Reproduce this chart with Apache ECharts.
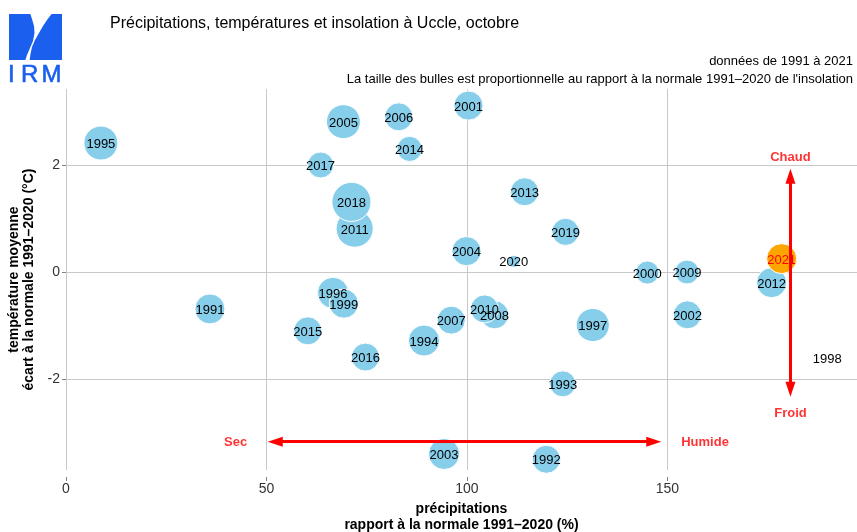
<!DOCTYPE html>
<html>
<head>
<meta charset="utf-8">
<script src="https://cdn.jsdelivr.net/npm/echarts@6/dist/echarts.min.js"></script>
<style>html,body{margin:0;padding:0;background:#fff}#c{width:857px;height:532px}</style>
</head>
<body>
<div id="c"></div>
<script>
// ---- data (October, Uccle) ----
const years  = [1991,1992,1993,1994,1995,1996,1997,1998,1999,2000,2001,2002,2003,2004,2005,2006,2007,2008,2009,2010,2011,2012,2013,2014,2015,2016,2017,2018,2019,2020,2021];
// precipitation, ratio to the 1991-2020 normal (%)
const precip = [35.9,119.8,123.9,89.3,8.7,66.6,131.4,189.9,69.3,145.0,100.4,155.0,94.3,99.9,69.2,83.0,96.1,106.9,154.9,104.4,72.0,176.0,114.4,85.7,60.3,74.7,63.5,71.2,124.6,111.7,178.5];
// mean temperature, departure from the 1991-2020 normal (°C)
const temp   = [-0.69,-3.50,-2.09,-1.28,2.41,-0.39,-0.99,-1.60,-0.59,-0.01,3.11,-0.80,-3.40,0.39,2.81,2.90,-0.90,-0.80,0.00,-0.69,0.81,-0.20,1.50,2.30,-1.10,-1.59,2.00,1.31,0.75,0.20,0.25];
// sunshine, ratio to the 1991-2020 normal (%)
const sun    = [105,98,91,109,119,109,116,0,102,81,102,98,109,102,119,98,98,98,84,98,130,105,98,88,98,98,91,137,95,42,105];
const highlightYear = 2021;

const xTicks = [0,50,100,150];
const yTicks = [-2,0,2];

// annotation arrows and labels (data space)
const arrowDry  = [[52.2,-3.17],[146.6,-3.17]];
const arrowWarm = [[180.7,1.79],[180.7,-2.19]];
const annotLabels = [[42.3,-3.17,'Sec'],[159.4,-3.17,'Humide'],[180.7,2.16,'Chaud'],[180.7,-2.63,'Froid']];

const chart = echarts.init(document.getElementById('c'), null, {renderer:'canvas'});
const FONT = 'Liberation Sans, Arial, Helvetica, sans-serif';
const BLUE = '#1a5fee';

const bubbleData = years.map((y,i)=>{
  const d = {value:[precip[i], temp[i], sun[i], y]};
  if (y === highlightYear) {
    d.itemStyle = {color:'#FFA500'};
    d.label = {color:'#FF0000'};
  }
  return d;
});

chart.setOption({
  animation:false,
  backgroundColor:'#fff',
  textStyle:{fontFamily:FONT},
  title:{
    text:'Précipitations, températures et insolation à Uccle, octobre',
    left:105, top:11,
    textStyle:{fontFamily:FONT, fontSize:16, fontWeight:'normal', color:'#000'}
  },
  graphic:[
    {type:'rect', shape:{x:9,y:14,width:53,height:46}, style:{fill:BLUE}},
    {type:'polygon', shape:{points:[[30,13],[32,19],[34,26],[34.5,33],[33,41],[30,48],[27,55],[25,61],[29.5,61],[30.5,54],[32,47],[35,40],[39,33],[43,26],[47,20],[50,16],[52.5,13]]}, style:{fill:'#fff'}},
    {type:'text', x:8,  y:75, style:{text:'I', font:'24px '+FONT, fill:BLUE, stroke:BLUE, lineWidth:0.6, textVerticalAlign:'middle'}},
    {type:'text', x:21, y:75, style:{text:'R', font:'24px '+FONT, fill:BLUE, stroke:BLUE, lineWidth:0.6, textVerticalAlign:'middle'}},
    {type:'text', x:41.5, y:75, style:{text:'M', font:'24px '+FONT, fill:BLUE, stroke:BLUE, lineWidth:0.6, textVerticalAlign:'middle'}},
    {type:'text', x:853, y:61, style:{text:'données de 1991 à 2021', font:'13px '+FONT, fill:'#000', textAlign:'right', textVerticalAlign:'middle'}},
    {type:'text', x:853, y:79, style:{text:"La taille des bulles est proportionnelle au rapport à la normale 1991–2020 de l'insolation", font:'13px '+FONT, fill:'#000', textAlign:'right', textVerticalAlign:'middle'}}
  ],
  grid:{left:66, top:89, width:791, height:381, containLabel:false, outerBoundsMode:'none'},
  xAxis:{
    type:'value', min:0, max:197.3, offset:7,
    name:'précipitations\nrapport à la normale 1991–2020 (%)',
    nameLocation:'middle', nameGap:18,
    nameTextStyle:{fontFamily:FONT, fontSize:14, fontWeight:'bold', color:'#000', lineHeight:16, verticalAlign:'top'},
    axisLine:{show:true, onZero:false, lineStyle:{color:'rgba(0,0,0,0)', width:0}},
    axisTick:{show:true, length:4, lineStyle:{color:'#7f7f7f', width:1}, customValues:xTicks},
    axisLabel:{fontFamily:FONT, fontSize:14, color:'#333', margin:5, customValues:xTicks},
    splitLine:{show:true, lineStyle:{color:'#c8c8c8', width:1}}
  },
  yAxis:{
    type:'value', min:-3.70, max:3.42,
    name:'température moyenne\nécart à la normale 1991–2020 (°C)',
    nameLocation:'middle', nameRotate:90, nameGap:29,
    nameTextStyle:{fontFamily:FONT, fontSize:14, fontWeight:'bold', color:'#000', lineHeight:15},
    axisLine:{show:true, onZero:false, lineStyle:{color:'rgba(0,0,0,0)', width:0}},
    axisTick:{show:true, length:4, lineStyle:{color:'#7f7f7f', width:1}, customValues:yTicks},
    axisLabel:{fontFamily:FONT, fontSize:14, color:'#333', margin:6, customValues:yTicks},
    splitLine:{show:true, lineStyle:{color:'#c8c8c8', width:1}}
  },
  series:[
    {
      type:'scatter', name:'octobre', z:2,
      data:bubbleData,
      symbol:'circle',
      symbolSize:function(v){ return Math.max(v[2]/3.5, 0.01); },
      itemStyle:{color:'#87CEEB', opacity:1, borderColor:'#fff', borderWidth:1},
      label:{show:true, position:'inside', offset:[0,1.5], formatter:p=>String(p.value[3]), fontFamily:FONT, fontSize:13, color:'#000'},
      emphasis:{disabled:true}
    },
    {
      type:'scatter', name:'annot', z:5,
      data:annotLabels.map(a=>({value:[a[0],a[1]], label:{formatter:a[2]}})),
      symbolSize:0.01,
      label:{show:true, position:'inside', offset:[0,1], fontFamily:FONT, fontSize:13, fontWeight:'bold', color:'#FF0000'},
      emphasis:{disabled:true},
      markLine:{
        silent:true, symbol:['triangle','triangle'], symbolSize:[10,15],
        label:{show:false},
        lineStyle:{color:'#FF0000', width:3, type:'solid', opacity:1},
        emphasis:{disabled:true},
        data:[
          [{coord:arrowDry[0]},{coord:arrowDry[1]}],
          [{coord:arrowWarm[0]},{coord:arrowWarm[1]}]
        ]
      }
    }
  ]
});
</script>
</body>
</html>
